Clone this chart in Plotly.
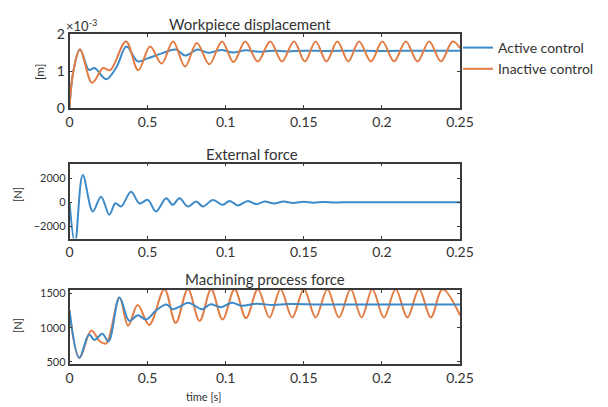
import plotly.graph_objects as go

# ---------------- data ----------------
x_tick_vals = [0, 0.05, 0.1, 0.15, 0.2, 0.25]
x_tick_text = ["0", "0.5", "0.1", "0.15", "0.2", "0.25"]

# Workpiece displacement [m]
disp_inactive_t = [0, 0.0025, 0.0067, 0.0145, 0.0215, 0.026, 0.0362, 0.044, 0.0516, 0.059,
                   0.0663, 0.074, 0.0815, 0.0895, 0.0976, 0.105, 0.1125, 0.1205, 0.1285, 0.136,
                   0.1437, 0.1507, 0.1576, 0.1645, 0.1715, 0.1785, 0.1854, 0.193, 0.2003, 0.2078,
                   0.2153, 0.2228, 0.2303, 0.2378, 0.2452, 0.25]
disp_inactive_v = [0, 1.0e-3, 1.58e-3, 0.68e-3, 1.08e-3, 1.02e-3, 1.8e-3, 1.02e-3, 1.66e-3, 1.2e-3,
                   1.8e-3, 1.12e-3, 1.76e-3, 1.18e-3, 1.8e-3, 1.24e-3, 1.8e-3, 1.26e-3, 1.8e-3, 1.26e-3,
                   1.8e-3, 1.26e-3, 1.8e-3, 1.26e-3, 1.8e-3, 1.26e-3, 1.8e-3, 1.26e-3, 1.8e-3, 1.26e-3,
                   1.8e-3, 1.26e-3, 1.8e-3, 1.26e-3, 1.8e-3, 1.62e-3]
disp_active_t = [0, 0.0025, 0.0067, 0.0125, 0.016, 0.0235, 0.03, 0.0365, 0.0437, 0.05,
                 0.06, 0.068, 0.074, 0.082, 0.089, 0.097, 0.105, 0.113, 0.121, 0.13,
                 0.14, 0.15, 0.165, 0.18, 0.2, 0.22, 0.25]
disp_active_v = [0, 1.0e-3, 1.58e-3, 1.03e-3, 1.08e-3, 0.78e-3, 1.1e-3, 1.66e-3, 1.26e-3, 1.34e-3,
                 1.49e-3, 1.58e-3, 1.42e-3, 1.58e-3, 1.49e-3, 1.57e-3, 1.5e-3, 1.56e-3, 1.52e-3, 1.55e-3,
                 1.53e-3, 1.55e-3, 1.54e-3, 1.55e-3, 1.54e-3, 1.55e-3, 1.55e-3]

# External force [N]
ext_t = [0, 0.0035, 0.0085, 0.0149, 0.0202, 0.0255, 0.0294, 0.033, 0.0394, 0.0448,
         0.0501, 0.0554, 0.0619, 0.0661, 0.0704, 0.0758, 0.0811, 0.0854, 0.0918, 0.0982,
         0.1024, 0.1078, 0.1142, 0.1196, 0.1249, 0.131, 0.137, 0.143, 0.15, 0.156,
         0.163, 0.17, 0.18, 0.2, 0.25]
ext_v = [0, -3400, 2250, -760, 460, -1030, -80, -350, 870, -100,
         190, -760, 326, -218, 326, -354, 54, -354, 190, -218,
         109, -272, 109, -163, 54, -100, 60, -60, 40, -40,
         20, -20, 0, 0, 0]

# Machining process force [N]
mach_inactive_t = [0, 0.0063, 0.014, 0.0195, 0.0235, 0.032, 0.0375, 0.0437, 0.051, 0.0608,
                   0.068, 0.0758, 0.0833, 0.0907, 0.098, 0.1057, 0.113, 0.1206, 0.128, 0.1351,
                   0.1426, 0.1501, 0.1576, 0.1651, 0.1725, 0.18, 0.187, 0.1939, 0.2013, 0.2088,
                   0.2163, 0.2238, 0.2313, 0.2388, 0.25]
mach_inactive_v = [1250, 560, 960, 800, 770, 1440, 1030, 1330, 1040, 1560,
                   1070, 1560, 1100, 1560, 1120, 1560, 1140, 1560, 1150, 1560,
                   1150, 1560, 1150, 1560, 1150, 1560, 1150, 1560, 1150, 1560,
                   1150, 1560, 1150, 1560, 1180]
mach_active_t = [0, 0.0063, 0.0125, 0.016, 0.021, 0.025, 0.032, 0.0383, 0.0437, 0.049,
                 0.0554, 0.062, 0.066, 0.07, 0.076, 0.085, 0.09, 0.097, 0.104, 0.11,
                 0.12, 0.13, 0.14, 0.16, 0.18, 0.2, 0.22, 0.25]
mach_active_v = [1250, 560, 900, 820, 910, 800, 1440, 1100, 1180, 1120,
                 1250, 1340, 1270, 1300, 1365, 1270, 1340, 1300, 1365, 1320,
                 1350, 1330, 1345, 1340, 1340, 1340, 1340, 1340]

BLUE = "#3d8ac8"
ORANGE = "#e27c45"
FONT = "Lato, Open Sans, sans-serif"
AX = "#3a3a3a"

W, H = 608, 407
def px_x(p): return p / W
def px_y(p): return 1 - p / H

fig = go.Figure()
lw = 2
fig.add_trace(go.Scatter(x=disp_active_t, y=disp_active_v, name="Active control",
                         line=dict(color=BLUE, width=lw, shape="spline"), xaxis="x", yaxis="y"))
fig.add_trace(go.Scatter(x=disp_inactive_t, y=disp_inactive_v, name="Inactive control",
                         line=dict(color=ORANGE, width=lw, shape="spline"), xaxis="x", yaxis="y"))
fig.add_trace(go.Scatter(x=ext_t, y=ext_v, showlegend=False,
                         line=dict(color=BLUE, width=lw, shape="spline"), xaxis="x2", yaxis="y2"))
fig.add_trace(go.Scatter(x=mach_inactive_t, y=mach_inactive_v, showlegend=False,
                         line=dict(color=ORANGE, width=lw, shape="spline"), xaxis="x3", yaxis="y3"))
fig.add_trace(go.Scatter(x=mach_active_t, y=mach_active_v, showlegend=False,
                         line=dict(color=BLUE, width=lw, shape="spline"), xaxis="x3", yaxis="y3"))

xdom = [px_x(69.5), px_x(460)]
common = dict(showline=True, linecolor=AX, linewidth=1.5, mirror="allticks", ticks="inside",
              ticklen=3, tickcolor=AX, showgrid=False, zeroline=False, automargin=False,
              tickfont=dict(size=14, color="#333", family=FONT))
xcommon = dict(common, range=[0, 0.25], tickvals=x_tick_vals, ticktext=x_tick_text, domain=xdom)

fig.update_layout(
    width=W, height=H,
    margin=dict(l=0, r=0, t=0, b=0, autoexpand=False),
    paper_bgcolor="white", plot_bgcolor="white",
    font=dict(family=FONT, color="#333"),
    xaxis=dict(xcommon, anchor="y"),
    xaxis2=dict(xcommon, anchor="y2"),
    xaxis3=dict(xcommon, anchor="y3"),
    yaxis=dict(common, anchor="x", domain=[px_y(108), px_y(34)], range=[0, 2e-3],
               tickvals=[0, 1e-3, 2e-3], ticktext=["0", "1", "2"]),
    yaxis2=dict(common, anchor="x2", domain=[px_y(238.5), px_y(163.5)], range=[-3000, 3200],
                tickvals=[-2000, 0, 2000], tickfont=dict(size=11, color="#333", family=FONT)),
    yaxis3=dict(common, anchor="x3", domain=[px_y(364), px_y(290)], range=[470, 1550],
                tickvals=[500, 1000, 1500], tickfont=dict(size=11, color="#333", family=FONT)),
    legend=dict(x=px_x(458), y=px_y(32), xanchor="left", yanchor="top",
                bgcolor="rgba(0,0,0,0)", font=dict(size=14, color="#333", family=FONT),
                itemwidth=30, tracegroupgap=0),
    showlegend=True,
)

ann = [
    dict(text="Workpiece displacement", x=px_x(250), y=px_y(24), font=dict(size=15)),
    dict(text="External force", x=px_x(252), y=px_y(154), font=dict(size=15)),
    dict(text="Machining process force", x=px_x(265), y=px_y(279), font=dict(size=15)),
    dict(text="time [s]", x=px_x(203), y=px_y(396), font=dict(size=11)),
    dict(text="[m]", x=px_x(39), y=px_y(72), font=dict(size=12), textangle=-90),
    dict(text="[N]", x=px_x(17), y=px_y(195), font=dict(size=11), textangle=-90),
    dict(text="[N]", x=px_x(17), y=px_y(326), font=dict(size=11), textangle=-90),
    dict(text="×10<sup>-3</sup>", x=px_x(64), y=px_y(26), font=dict(size=13), xanchor="left"),
]
for a in ann:
    a.setdefault("xanchor", "center")
    fig.add_annotation(xref="paper", yref="paper", showarrow=False, yanchor="middle",
                       font_color="#333", **{k: v for k, v in a.items()})

fig.write_html("out.html", config={"displayModeBar": False},
               post_script="document.body.style.margin='0';document.body.style.overflow='hidden';")
